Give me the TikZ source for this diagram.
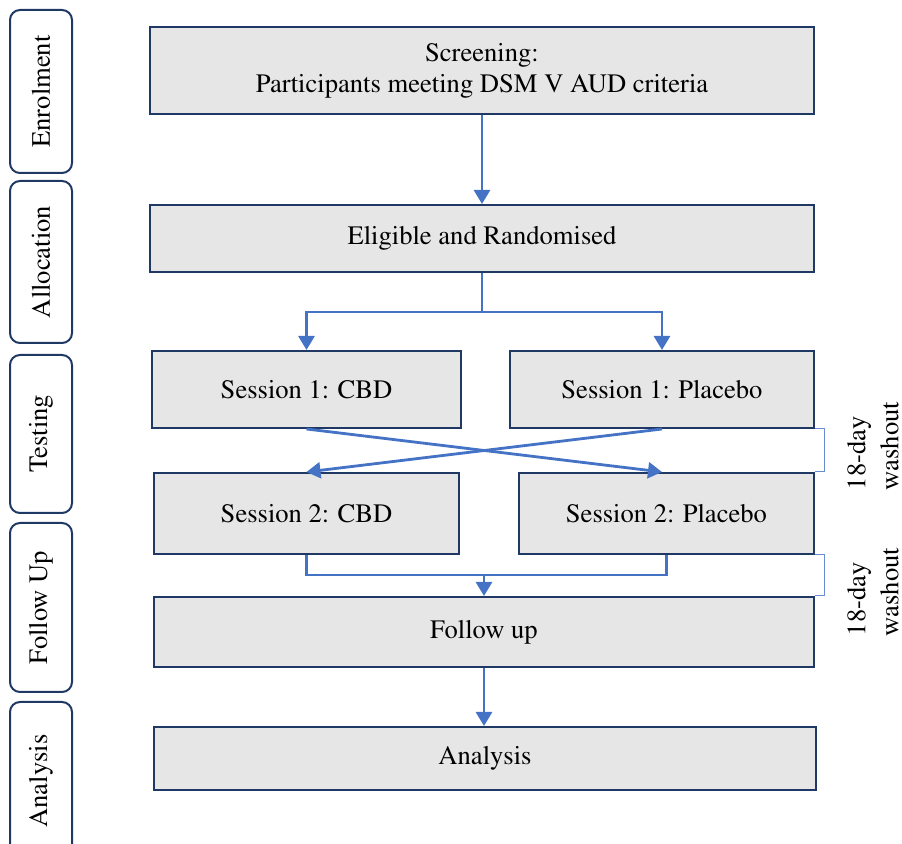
\documentclass[tikz,border=0pt]{standalone}
\usepackage[T1]{fontenc}
\renewcommand{\rmdefault}{ptm}
\usetikzlibrary{positioning,arrows.meta}
\definecolor{boxfill}{HTML}{E7E6E6}
\definecolor{boxline}{HTML}{1F3864}
\definecolor{flow}{HTML}{4472C4}
\tikzset{
  stage/.style={draw=boxline, line width=1pt, fill=boxfill, align=center, inner sep=0pt, font=\fontsize{13.3}{15.5}\selectfont},
  phase/.style={draw=boxline, line width=1pt, rounded corners=5pt, rotate=90, minimum height=31pt, inner sep=0pt, font=\fontsize{13.3}{15.5}\selectfont},
  link/.style={draw=flow, line width=1.4pt, -{Triangle[width=8pt,length=7pt]}},
  plainlink/.style={draw=flow, line width=1.4pt},
  gap/.style={draw=flow!80, line width=0.5pt},
  note/.style={rotate=90, align=left, inner sep=0pt, font=\fontsize{13.3}{16.5}\selectfont}
}

\begin{document}
\begin{tikzpicture}[x=0.5pt, y=-0.5pt]
  \useasboundingbox (0,0) rectangle (902,844);

  % phases on the left
  \node[phase, minimum width=81.5pt] (enrol) at (41,91.5) {Enrolment};
  \node[phase, minimum width=81pt] (alloc) at (41,262) {Allocation};
  \node[phase, minimum width=79pt] (test) at (41,434) {Testing};
  \node[phase, minimum width=84.5pt] (fup) at (41,607.5) {Follow Up};
  \node[phase, minimum width=79pt] (anal) at (41,781) {Analysis};

  % flow boxes
  \node[stage, minimum width=332pt, minimum height=43.5pt] (screen) at (482,70.5) {Screening:\\ Participants meeting DSM V AUD criteria};
  \node[stage, minimum width=332pt, minimum height=33.5pt] (elig) at (482,238.5) {Eligible and Randomised};
  \node[stage, minimum width=154.5pt, minimum height=38.5pt] (s1cbd) at (306.5,389.5) {Session 1: CBD};
  \node[stage, minimum width=152pt, minimum height=38.5pt] (s1pla) at (662,389.5) {Session 1: Placebo};
  \node[stage, minimum width=152.5pt, minimum height=40.5pt] (s2cbd) at (306.5,513.5) {Session 2: CBD};
  \node[stage, minimum width=147.5pt, minimum height=40.5pt] (s2pla) at (666.5,513.5) {Session 2: Placebo};
  \node[stage, minimum width=330pt, minimum height=35pt] (follow) at (484,632) {Follow up};
  \node[stage, minimum width=331pt, minimum height=31.5pt] (analysis) at (485,758.5) {Analysis};

  \coordinate (split) at (482,312);
  \coordinate (merge) at (484,575);

  % connectors
  \draw[link] (screen) -- (elig);
  \draw[plainlink] (elig.south) -- (split);
  \draw[link] (split) -| (s1cbd.north);
  \draw[link] (split) -| (s1pla.north);
  \draw[link] (s1cbd.south) -- (s2pla.north -| s1pla.south);
  \draw[link] (s1pla.south) -- (s2cbd.north -| s1cbd.south);
  \draw[plainlink] (s2cbd.south) |- (merge) -| (s2pla.south);
  \draw[link] (merge) -- (follow.north);
  \draw[link] (follow.south) -- (follow.south |- analysis.north);

  % washout brackets
  \draw[gap] (s1pla.south east) -- ++(9,0) |- (s2pla.north east);
  \draw[gap] (s2pla.south east) -- ++(9,0) |- (follow.north east);
  \node[note] (wash1) at (873,446) {18-day\\washout};
  \node[note] (wash2) at (873,592) {18-day\\washout};
\end{tikzpicture}
\end{document}
